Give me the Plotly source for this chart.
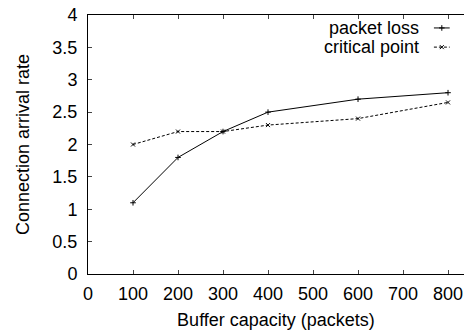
import plotly.graph_objects as go

buffer_sizes = [100, 200, 300, 400, 600, 800]
packet_loss = [1.1, 1.8, 2.2, 2.5, 2.7, 2.8]
critical_point = [2.0, 2.2, 2.2, 2.3, 2.4, 2.65]
x_ticks = [0, 100, 200, 300, 400, 500, 600, 700, 800]
y_ticks = [0, 0.5, 1, 1.5, 2, 2.5, 3, 3.5, 4]
y_tick_text = ["0", "0.5", "1", "1.5", "2", "2.5", "3", "3.5", "4"]
series_names = ["packet loss", "critical point"]

FONT = "Liberation Sans, Arial, sans-serif"

fig = go.Figure()
fig.add_trace(go.Scatter(
    x=buffer_sizes, y=packet_loss, mode="lines+markers", name=series_names[0],
    line=dict(color="black", width=1),
    marker=dict(symbol="cross-thin", size=4, line=dict(color="black", width=1)),
    showlegend=False, cliponaxis=False))
fig.add_trace(go.Scatter(
    x=buffer_sizes, y=critical_point, mode="lines+markers", name=series_names[1],
    line=dict(color="black", width=1, dash="3px,2px"),
    marker=dict(symbol="x-thin", size=4, line=dict(color="black", width=1)),
    showlegend=False, cliponaxis=False))

# legend samples (gnuplot style: text left, sample right)
leg_y = [0.95, 0.876]
styles = [dict(dash="solid", sym="cross-thin"), dict(dash="3px,2px", sym="x-thin")]
for name, ly, st in zip(series_names, leg_y, styles):
    fig.add_trace(go.Scatter(
        x=[0.92, 0.962], y=[ly, ly], xaxis="x2", yaxis="y2", mode="lines",
        line=dict(color="black", width=1, dash=st["dash"]), showlegend=False, hoverinfo="skip"))
    fig.add_trace(go.Scatter(
        x=[0.941], y=[ly], xaxis="x2", yaxis="y2", mode="markers",
        marker=dict(symbol=st["sym"], size=4, line=dict(color="black", width=1)),
        showlegend=False, hoverinfo="skip"))
    fig.add_annotation(x=0.886, y=ly, xref="x2", yref="y2", text=name, showarrow=False,
                       xanchor="right", yanchor="middle",
                       font=dict(family=FONT, size=18, color="black"))

fig.update_layout(
    width=464, height=332,
    margin=dict(l=88, r=0, t=15, b=58),
    paper_bgcolor="white", plot_bgcolor="white",
    font=dict(family=FONT, size=18, color="black"),
    xaxis=dict(range=[0, 835.5], tickvals=x_ticks, ticks="inside", ticklen=4,
               showline=True, linecolor="black", linewidth=1, mirror="ticks",
               showgrid=False, zeroline=False, ticklabelstandoff=3,
               title=dict(text="Buffer capacity (packets)", standoff=10,
                          font=dict(family=FONT, size=18)),
               tickfont=dict(family=FONT, size=18)),
    yaxis=dict(range=[0, 4], tickvals=y_ticks, ticktext=y_tick_text, ticks="inside", ticklen=4,
               showline=True, linecolor="black", linewidth=1, mirror=False,
               showgrid=False, zeroline=False, ticklabelstandoff=6,
               title=dict(text="Connection arrival rate", standoff=18,
                          font=dict(family=FONT, size=18)),
               tickfont=dict(family=FONT, size=18)),
    xaxis2=dict(range=[0, 1], overlaying="x", visible=False),
    yaxis2=dict(range=[0, 1], overlaying="y", visible=False),
)

fig.write_html("out.html")
